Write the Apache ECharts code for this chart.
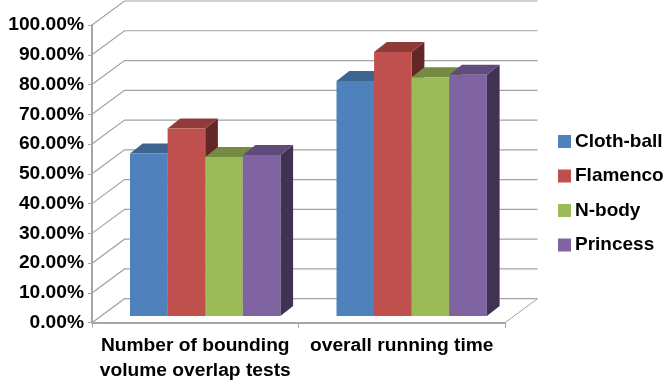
<!DOCTYPE html>
<html>
<head>
<meta charset="utf-8">
<style>html,body{margin:0;padding:0;background:#fff}#chart{width:667px;height:384px}</style>
<script src="https://cdn.jsdelivr.net/npm/echarts@6/dist/echarts.min.js"></script>
</head>
<body>
<div id="chart"></div>
<script>
// Chart values (percent)
const categories = ['Number of bounding\nvolume overlap tests', 'overall running time'];
const clothBall = [54.6, 78.9];
const flamenco = [63.0, 88.7];
const nBody = [53.4, 80.2];
const princess = [54.1, 81.0];
const yTicks = [0, 10, 20, 30, 40, 50, 60, 70, 80, 90, 100];

// Front, top and side shades per series
const palette = [
  { name: 'Cloth-ball', values: clothBall, front: '#4f81bd', top: '#3e6591', side: '#2f4d70' },
  { name: 'Flamenco', values: flamenco, front: '#c0504d', top: '#8f3b39', side: '#632826' },
  { name: 'N-body', values: nBody, front: '#9bbb59', top: '#738b42', side: '#556732' },
  { name: 'Princess', values: princess, front: '#8064a2', top: '#604b7a', side: '#403253' }
];

// Oblique projection of the plot box
const DEPTH_X = 32.5, DEPTH_Y = 24;
const BAR_SHIFT_X = 9, BAR_SHIFT_Y = 6.7;   // bar front face sits this far into the box
const BAR_DEPTH_X = 12.7, BAR_DEPTH_Y = 10;
const GROUP_START = 29 / 206.5, BAR_FRACTION = 37.6 / 206.5;

const WALL_COLOR = '#a3a3a3';

function renderWall(params, api) {
  const box = params.coordSys;
  const v = api.value(1);
  const y = api.coord([0, v])[1];
  const x0 = box.x, x1 = box.x + box.width;
  const children = [{
    type: 'polyline',
    shape: { points: [[x0, y], [x0 + DEPTH_X, y - DEPTH_Y], [x1 + DEPTH_X, y - DEPTH_Y]] },
    style: { stroke: WALL_COLOR, lineWidth: 1.2, fill: null }
  }];
  if (v === 0) {
    children.push({
      type: 'line',
      shape: { x1: x1, y1: y, x2: x1 + DEPTH_X, y2: y - DEPTH_Y },
      style: { stroke: WALL_COLOR, lineWidth: 1 }
    });
  }
  return { type: 'group', children: children };
}

function barRenderer(order, shade) {
  return function (params, api) {
    const cat = api.value(0);
    const band = api.size([1, 0])[0];
    const centre = api.coord([cat, 0]);
    const w = band * BAR_FRACTION;
    const x = centre[0] - band / 2 + band * GROUP_START + order * w + BAR_SHIFT_X;
    const yBase = centre[1] - BAR_SHIFT_Y;
    const yTop = api.coord([cat, api.value(1)])[1] - BAR_SHIFT_Y;
    const dx = BAR_DEPTH_X, dy = BAR_DEPTH_Y;
    return {
      type: 'group',
      children: [
        { type: 'polygon',
          shape: { points: [[x + w, yBase], [x + w + dx, yBase - dy], [x + w + dx, yTop - dy], [x + w, yTop]] },
          style: { fill: shade.side } },
        { type: 'polygon',
          shape: { points: [[x, yTop], [x + dx, yTop - dy], [x + w + dx, yTop - dy], [x + w, yTop]] },
          style: { fill: shade.top } },
        { type: 'rect',
          shape: { x: x, y: yTop, width: w, height: yBase - yTop },
          style: { fill: shade.front } }
      ]
    };
  };
}

const font = '"Liberation Sans", Arial, sans-serif';
const chart = echarts.init(document.getElementById('chart'), null, { renderer: 'canvas' });

chart.setOption({
  animation: false,
  backgroundColor: '#fff',
  grid: { left: 92, top: 25, width: 413, height: 297.7 },
  legend: {
    left: 553, top: 127, orient: 'vertical',
    itemWidth: 13, itemHeight: 13, itemGap: 15.5,
    data: palette.map(p => ({ name: p.name, icon: 'rect' })),
    textStyle: { fontFamily: font, fontWeight: 'bold', fontSize: 19, color: '#000', padding: [0, 0, 0, -1] },
    selectedMode: false
  },
  xAxis: {
    type: 'category', data: categories,
    axisLine: { lineStyle: { color: '#a6a6a6', width: 2 } },
    axisTick: { show: true, length: 5, lineStyle: { color: '#a6a6a6' } },
    axisLabel: { fontFamily: font, fontWeight: 'bold', fontSize: 19.2, color: '#000', lineHeight: 25.5, margin: 10, interval: 0 }
  },
  yAxis: {
    type: 'value', min: 0, max: 100, interval: 10,
    axisLine: { show: true, lineStyle: { color: '#a6a6a6', width: 2 } },
    axisTick: { show: true, length: 4, lineStyle: { color: '#a6a6a6' } },
    splitLine: { show: false },
    axisLabel: { fontFamily: font, fontWeight: 'bold', fontSize: 19.2, color: '#000', margin: 8,
      formatter: v => v.toFixed(2) + '%' }
  },
  series: [
    { type: 'custom', name: 'walls', silent: true, z: 1, renderItem: renderWall,
      data: yTicks.map(t => [0, t]) }
  ].concat(palette.map((p, i) => ({
    type: 'custom', name: p.name, z: 2 + i, silent: true,
    itemStyle: { color: p.front },
    renderItem: barRenderer(i, p),
    data: p.values.map((v, c) => [c, v])
  })))
});
</script>
</body>
</html>
